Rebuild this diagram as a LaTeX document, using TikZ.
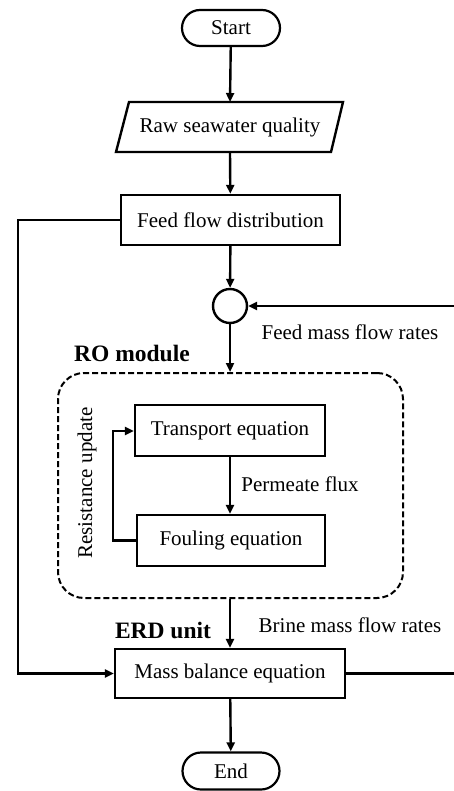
\documentclass[tikz,border=0pt]{standalone}
\usepackage{fontspec}
\setmainfont{Liberation Serif}
\usetikzlibrary{arrows.meta,calc,shapes.misc}
\tikzset{
  line/.style={line width=2.4pt},
  arr/.style={line, -{Triangle[length=9pt,width=8pt]}},
  box/.style={draw, line width=2.4pt, rectangle, inner sep=0pt},
  term/.style={draw, line width=2.2pt, rounded rectangle},
  lbl/.style={font=\fontsize{21}{24}\selectfont, inner sep=0pt},
  hdr/.style={font=\fontsize{23.5}{26}\selectfont\bfseries, inner sep=0pt},
}
\begin{document}
\begin{tikzpicture}[x=1pt,y=-1pt]
\useasboundingbox (0,0) rectangle (454,791);

% terminators
\node[term, minimum width=98pt, minimum height=36pt, lbl, inner sep=0pt] (start) at (231,28) {Start};
\node[term, minimum width=97pt, minimum height=37pt, lbl, inner sep=0pt] (end) at (231,771) {End};

% input parallelogram
\coordinate (rawc) at (230,127);
\draw[line, line join=miter] (116,152) -- (331,152) -- (343,102) -- (129,102) -- cycle;
\node[lbl] (raw) at (rawc) {Raw seawater quality};
\coordinate (rawtop) at (230,102);
\coordinate (rawbot) at (230,152);

% process boxes
\node[box, minimum width=219pt, minimum height=50pt, lbl] (feed) at (230.5,220) {Feed flow distribution};
\node[draw, line width=2.4pt, circle, minimum size=34pt, inner sep=0pt] (mix) at (230,306) {};
\node[box, minimum width=190pt, minimum height=51pt, lbl] (trans) at (230,430.5) {Transport equation};
\node[box, minimum width=188pt, minimum height=51pt, lbl] (foul) at (231,540.5) {Fouling equation};
\node[box, minimum width=230pt, minimum height=49pt, lbl] (mass) at (230,673.5) {Mass balance equation};

% dashed RO module boundary
\node[draw, line width=2pt, dash pattern=on 6pt off 3pt, rounded corners=26pt,
      minimum width=345pt, minimum height=225pt] (ro) at (230.5,485.5) {};

% labels
\node[hdr] (rolbl) at (132,353) {RO module};
\node[hdr] (erdlbl) at (163,630) {ERD unit};
\node[lbl] (fmf) at (350,332) {Feed mass flow rates};
\node[lbl] (bmf) at (350,625) {Brine mass flow rates};
\node[lbl] (pf) at (300,484) {Permeate flux};
\node[lbl, rotate=90] (ru) at (87,483) {Resistance update};

% edge coordinates
\coordinate (leftx) at (18,0);
\coordinate (rightx) at (454,0);
\coordinate (loopx) at (113,0);

% connectors
\draw[arr] (start) -- (rawtop);
\draw[arr] (rawbot) -- (feed);
\draw[arr] (feed) -- (mix);
\draw[arr] (mix) -- (mix |- ro.north);
\draw[arr] (rightx |- mix.east) -- (mix.east);
\draw[arr] (trans) -- (trans.south |- foul.north);
\draw[arr] (foul.west) -- (loopx |- foul.west) -- (loopx |- 0,431) -- (trans.west |- 0,431);
\draw[arr] (ro.south -| mass.north) -- (mass.north);
\draw[arr] (feed.west) -- (leftx |- feed.west) -- (leftx |- mass.west) -- (mass.west);
\draw[line] (mass.east) -- (rightx |- mass.east);
\draw[arr] (mass) -- (end);
\end{tikzpicture}
\end{document}
